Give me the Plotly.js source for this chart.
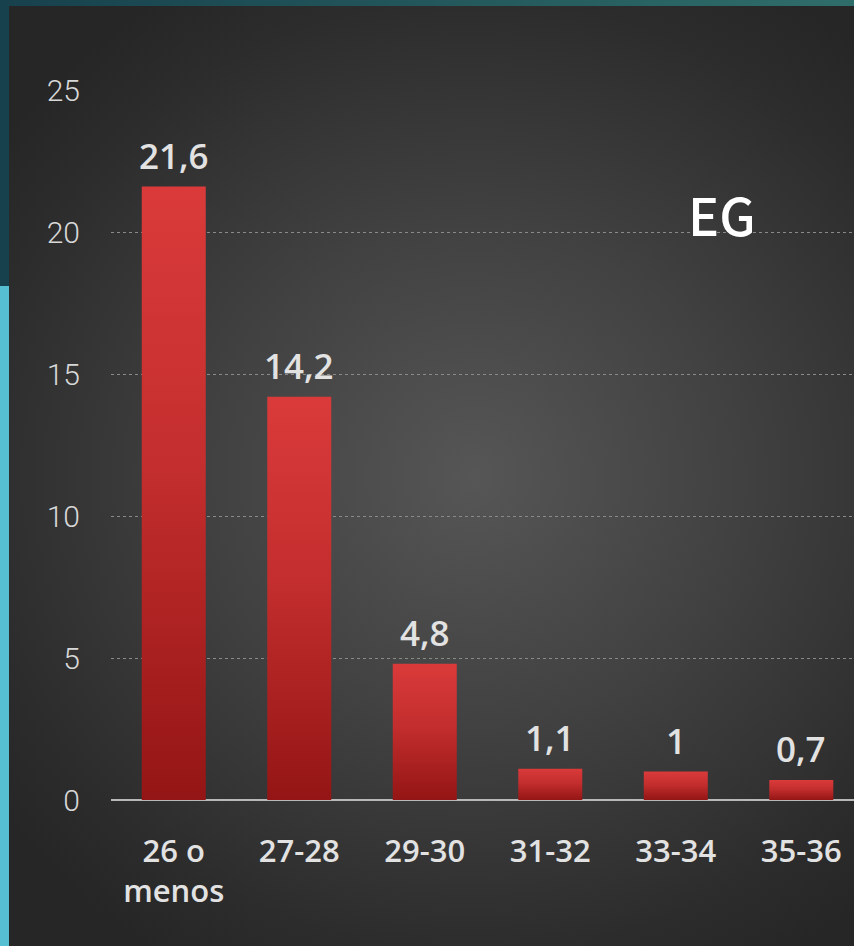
<!DOCTYPE html>
<html>
<head>
<meta charset="utf-8">
<script src="https://cdn.plot.ly/plotly-3.0.1.min.js"></script>
<style>
  html, body { margin: 0; padding: 0; width: 854px; height: 946px; overflow: hidden; background: #56bfd1; }
  #topstrip { position: absolute; left: 0; top: 0; width: 854px; height: 6px; background: linear-gradient(to right, #17414d, #2f6d6a); }
  #leftdark { position: absolute; left: 0; top: 0; width: 9px; height: 286px; background: #17414d; }
  #panel { position: absolute; left: 9px; top: 6px; width: 845px; height: 940px;
           background: radial-gradient(ellipse 70% 60% at 55% 50%, #565656 0%, #414141 45%, #2c2c2c 85%, #262626 100%); }
  #chart { position: absolute; left: 0; top: 0; width: 854px; height: 946px; }
</style>
</head>
<body>
<div id="topstrip"></div>
<div id="leftdark"></div>
<div id="panel"></div>
<div id="chart"></div>
<script>
const categories = ["26 o<br>menos", "27-28", "29-30", "31-32", "33-34", "35-36"];
const values = [21.6, 14.2, 4.8, 1.1, 1, 0.7];
const yTicks = [0, 5, 10, 15, 20, 25];
const labelText = "EG";

const trace = {
  type: "bar",
  x: categories,
  y: values,
  marker: { color: "#c62c2c", line: { width: 0 } },
  hoverinfo: "skip"
};

const valueLabels = categories.map((c, i) => ({
  x: c,
  y: values[i],
  xref: "x", yref: "y",
  text: String(values[i]).replace(".", ","),
  showarrow: false,
  xanchor: "center", yanchor: "bottom",
  yshift: 6,
  font: { family: "Open Sans, sans-serif", size: 35, color: "#e2e2e2", weight: 600 }
}));

const layout = {
  width: 854,
  height: 946,
  margin: { l: 111, r: 0, t: 90, b: 146 },
  paper_bgcolor: "rgba(0,0,0,0)",
  plot_bgcolor: "rgba(0,0,0,0)",
  bargap: 0.49,
  showlegend: false,
  xaxis: {
    type: "category",
    range: [-0.5, 5.42],
    showgrid: false,
    zeroline: false,
    showline: false,
    ticks: "",
    ticklabelstandoff: 30,
    tickfont: { family: "Open Sans, sans-serif", size: 31, color: "#e2e2e2", weight: 600 },
    fixedrange: true
  },
  yaxis: {
    range: [0, 25],
    tickvals: yTicks,
    ticktext: yTicks.map(String),
    showgrid: true,
    gridcolor: "#8a8a8a",
    griddash: "dot",
    gridwidth: 1,
    zeroline: true,
    zerolinecolor: "#b8b8b8",
    zerolinewidth: 2,
    showline: false,
    ticks: "",
    ticklabelstandoff: 30,
    tickfont: { family: "Roboto, sans-serif", size: 30, color: "#d8d8d8", weight: 300 },
    fixedrange: true
  },
  annotations: valueLabels.concat([{
    text: labelText,
    xref: "paper", yref: "paper",
    x: 0.822, y: 0.826,
    xanchor: "center", yanchor: "middle",
    showarrow: false,
    font: { family: "Noto Sans CJK JP, Open Sans, sans-serif", size: 52, color: "#ffffff", weight: 500 }
  }])
};

Plotly.newPlot("chart", [trace], layout, { displayModeBar: false, staticPlot: true }).then(gd => {
  const svg = gd.querySelector("svg.main-svg");
  const ns = "http://www.w3.org/2000/svg";
  let defs = svg.querySelector("defs");
  if (!defs) { defs = document.createElementNS(ns, "defs"); svg.insertBefore(defs, svg.firstChild); }
  const grad = document.createElementNS(ns, "linearGradient");
  grad.setAttribute("id", "barGrad");
  grad.setAttribute("x1", "0"); grad.setAttribute("y1", "0");
  grad.setAttribute("x2", "0"); grad.setAttribute("y2", "1");
  [["0", "#da3a3a"], ["0.45", "#c42e2e"], ["1", "#941515"]].forEach(([o, c]) => {
    const s = document.createElementNS(ns, "stop");
    s.setAttribute("offset", o); s.setAttribute("stop-color", c);
    grad.appendChild(s);
  });
  defs.appendChild(grad);
  gd.querySelectorAll(".bars .point path").forEach(p => {
    p.style.fill = "url(#barGrad)";
  });
});
</script>
</body>
</html>
